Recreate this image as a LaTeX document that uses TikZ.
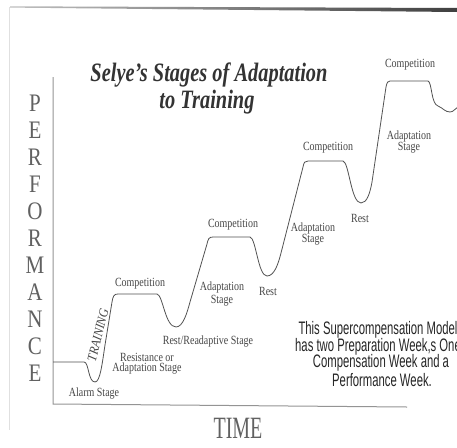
\documentclass[tikz,border=0pt]{standalone}
\usepackage{fontspec}
\setmainfont{Liberation Serif}
\newfontfamily\arialf{Liberation Sans}
\usepackage{graphicx}
\newcommand\vstr[2]{\scalebox{1}[#1]{#2}}
\begin{document}
\begin{tikzpicture}[x=1pt,y=-1pt,
  lab/.style={inner sep=0pt, text=black!72, font=\fontsize{10}{12}\selectfont},
  axl/.style={inner sep=0pt, text=black!62, font=\fontsize{21}{24}\selectfont},
  note/.style={inner sep=0pt, text=black!85, font=\arialf\fontsize{11.3}{13}\selectfont},
  curve/.style={draw=black!68, line width=0.8pt, line join=round},
  axis/.style={draw=black!42, line width=1pt}]
\useasboundingbox (0,0) rectangle (457,447);
\clip (0,0) rectangle (457,447);
\fill[white] (0,0) rectangle (457,447);
% scan border
\shade[left color=black!25, right color=black!75] (10,6.3) -- (457,8) -- (457,12) -- (10,7.6) -- cycle;
\draw[black!12, line width=0.8pt] (9.5,7) -- (9.5,430);
% axes
\coordinate (ytop) at (53,77);
\coordinate (orig) at (53,404);
\coordinate (xend) at (407,407);
\draw[axis] (ytop) -- (orig) -- (xend);
% title
\node[inner sep=0pt, text=black!80, font=\fontsize{20.4}{24}\selectfont\bfseries\itshape] (t1) at (209,75) {\vstr{1.3}{Selye's Stages of Adaptation}};
\node[inner sep=0pt, text=black!80, font=\fontsize{20.4}{24}\selectfont\bfseries\itshape] (t2) at (207,102) {\vstr{1.3}{to Training}};
% axis labels
\foreach \l [count=\i] in {P,E,R,F,O,R,M,A,N,C,E}
  \node[axl] (p\i) at (35,{103.5+27*(\i-1)}) {\vstr{1.2}{\l}};
\node[inner sep=0pt, text=black!62, font=\fontsize{20}{24}\selectfont] (time) at (238,428) {\vstr{1.55}{TIME}};
% curve
\draw[curve] (53,362) -- (84,362)
 .. controls (89,362) and (88,382) .. (95,382)
 .. controls (100,382) and (102,365) .. (105,345)
 -- (112,302) .. controls (113,296) and (114,294) .. (118,294)
 -- (157,294)
 .. controls (163,295) and (165,327) .. (176,327)
 .. controls (183,327) and (187,313) .. (190,302)
 -- (207,244) .. controls (208,239) and (209,237) .. (213,237)
 -- (250,237)
 .. controls (256,238) and (258,276) .. (267,276)
 .. controls (274,276) and (278,265) .. (281,253)
 -- (303,167) .. controls (304,162) and (305,161) .. (308,161)
 -- (343,161)
 .. controls (349,162) and (351,203) .. (361,203)
 .. controls (367,203) and (370,193) .. (372,182)
 -- (386,87) .. controls (387,82) and (388,81) .. (390,81)
 -- (428,81)
 .. controls (432,82) and (431,104) .. (438,106)
 .. controls (443,108) and (445,112) .. (450,112)
 .. controls (454,112) and (455,108) .. (458,107);
% stage labels
\node[lab] (c1) at (140,284) {\vstr{1.25}{Competition}};
\node[inner sep=0pt, text=black!72, font=\fontsize{12}{14}\selectfont\itshape, rotate=76] (train) at (98,335) {\vstr{1.1}{TRAINING}};
\node[lab] (res1) at (147,357) {\vstr{1.25}{Resistance or}};
\node[lab] (res2) at (147,369) {\vstr{1.25}{Adaptation Stage}};
\node[lab] (alarm) at (94,394) {\vstr{1.25}{Alarm Stage}};
\node[lab] (rr) at (208,342) {\vstr{1.25}{Rest/Readaptive Stage}};
\node[lab] (a1a) at (222,287) {\vstr{1.25}{Adaptation}};
\node[lab] (a1b) at (222,301) {\vstr{1.25}{Stage}};
\node[lab] (c2) at (233,225) {\vstr{1.25}{Competition}};
\node[lab] (r1) at (268,291) {\vstr{1.25}{Rest}};
\node[lab] (a2a) at (313,228) {\vstr{1.25}{Adaptation}};
\node[lab] (a2b) at (313,240) {\vstr{1.25}{Stage}};
\node[lab] (c3) at (328,148) {\vstr{1.25}{Competition}};
\node[lab] (r2) at (360,218) {\vstr{1.25}{Rest}};
\node[lab] (a3a) at (409,136) {\vstr{1.25}{Adaptation}};
\node[lab] (a3b) at (409,148) {\vstr{1.25}{Stage}};
\node[lab] (c4) at (410,65) {\vstr{1.25}{Competition}};
% note
\node[note] (n1) at (378,330) {\vstr{1.6}{This Supercompensation Model}};
\node[note] (n2) at (378,347) {\vstr{1.6}{has two Preparation Week,s One}};
\node[note] (n3) at (381,363) {\vstr{1.6}{Compensation Week and a}};
\node[note] (n4) at (382,380) {\vstr{1.6}{Performance Week.}};
\end{tikzpicture}
\end{document}
